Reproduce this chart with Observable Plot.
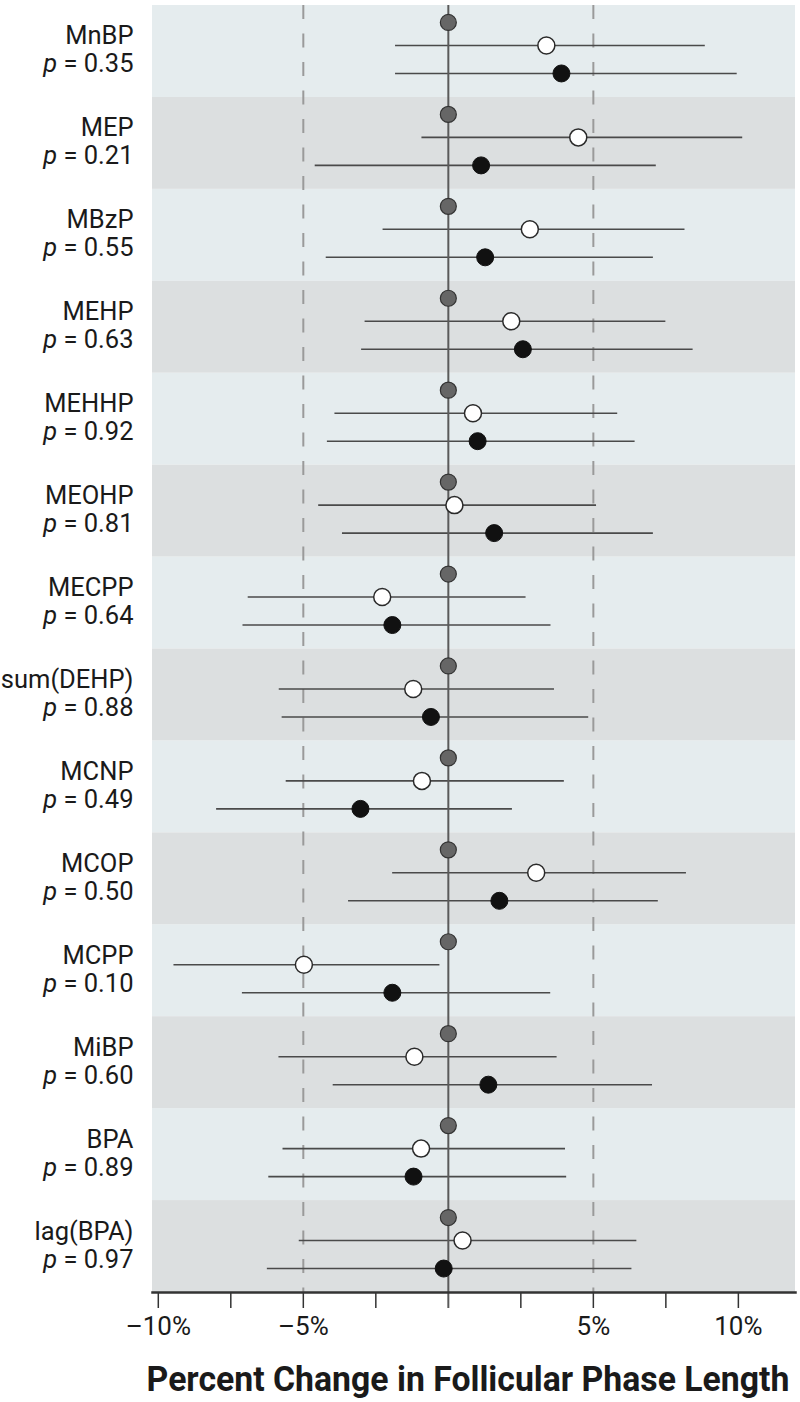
<!DOCTYPE html>
<html>
<head>
<meta charset="utf-8">
<script src="https://cdn.jsdelivr.net/npm/d3@7"></script>
<script src="https://cdn.jsdelivr.net/npm/@observablehq/plot@0.6"></script>
<style>
  html, body { margin: 0; padding: 0; background: #fff; }
  #chart svg { display: block; }
  #title { width: 800px; height: 52px; position: relative; }
  #title span {
    position: absolute; left: 468px; top: 10px;
    font-family: Roboto, "Liberation Sans", sans-serif; font-weight: 700; font-size: 35px;
    line-height: 40px; white-space: nowrap; color: #1a1a1a;
    transform: translateX(-50%) scaleX(0.965); transform-origin: center;
  }
</style>
</head>
<body>
<div id="chart"></div>
<div id="title"><span>Percent Change in Follicular Phase Length</span></div>
<script>
const names = ["MnBP","MEP","MBzP","MEHP","MEHHP","MEOHP","MECPP","sum(DEHP)","MCNP","MCOP","MCPP","MiBP","BPA","lag(BPA)"];
const pValues = ["0.35","0.21","0.55","0.63","0.92","0.81","0.64","0.88","0.49","0.50","0.10","0.60","0.89","0.97"];
// reference group (grey dots)
const refEst = [0,0,0,0,0,0,0,0,0,0,0,0,0,0];
// middle group (open circles)
const midEst = [3.38, 4.48, 2.81, 2.17, 0.85, 0.21, -2.28, -1.21, -0.91, 3.03, -4.98, -1.17, -0.94, 0.49];
const midLo  = [-1.82, -0.91, -2.25, -2.87, -3.91, -4.47, -6.90, -5.83, -5.59, -1.92, -9.46, -5.84, -5.70, -5.14];
const midHi  = [8.86, 10.15, 8.16, 7.50, 5.84, 5.11, 2.68, 3.66, 4.00, 8.21, -0.29, 3.75, 4.04, 6.50];
// high group (filled circles)
const highEst = [3.90, 1.13, 1.27, 2.57, 1.01, 1.58, -1.93, -0.60, -3.03, 1.76, -1.93, 1.38, -1.20, -0.16];
const highLo  = [-1.82, -4.59, -4.21, -2.99, -4.17, -3.65, -7.08, -5.73, -7.99, -3.44, -7.10, -3.97, -6.19, -6.24];
const highHi  = [9.96, 7.17, 7.07, 8.44, 6.44, 7.07, 3.54, 4.84, 2.21, 7.24, 3.53, 7.04, 4.08, 6.33];
// axis
const xDomain = [-10.2, 11.97];
const xTicks = [-10, -7.5, -5, -2.5, 2.5, 5, 7.5, 10];
const xLabeled = [-10, -5, 5, 10];
const refLines = [-5, 5];

const rows = names.map((name, i) => ({
  name, p: "p = " + pValues[i], idx: i,
  ref: refEst[i], mid: midEst[i], midLo: midLo[i], midHi: midHi[i],
  high: highEst[i], highLo: highLo[i], highHi: highHi[i]
}));

const FONT = 'Roboto, "Liberation Sans", sans-serif';

const plot = Plot.plot({
  width: 800,
  height: 1350,
  marginTop: 5,
  marginBottom: 58,
  marginLeft: 152,
  marginRight: 5,
  style: { fontFamily: FONT, background: "#fff" },
  x: { domain: xDomain },
  y: { domain: names, padding: 0, round: false, axis: null },
  marks: [
    Plot.cell(rows.filter(d => d.idx % 2 === 0), { y: "name", fill: "#e5ecee", inset: 0 }),
    Plot.cell(rows.filter(d => d.idx % 2 === 1), { y: "name", fill: "#dcdfe0", inset: 0 }),
    Plot.ruleX(refLines, { stroke: "#9a9a9a", strokeWidth: 2, strokeDasharray: "14,14.5" }),
    Plot.ruleY(rows, { y: "name", x1: "midLo", x2: "midHi", dy: -6, stroke: "#4a4a4a", strokeWidth: 1.6 }),
    Plot.ruleY(rows, { y: "name", x1: "highLo", x2: "highHi", dy: 22, stroke: "#4a4a4a", strokeWidth: 1.6 }),
    Plot.ruleX([0], { stroke: "#5a5a5a", strokeWidth: 2, insetBottom: -16 }),
    Plot.dot(rows, { x: "ref", y: "name", dy: -29, r: 8, fill: "#666", stroke: "#333", strokeWidth: 1.2 }),
    Plot.dot(rows, { x: "mid", y: "name", dy: -6, r: 8.5, fill: "#fff", stroke: "#2a2a2a", strokeWidth: 1.5 }),
    Plot.dot(rows, { x: "high", y: "name", dy: 22, r: 8.5, fill: "#111", stroke: "#111", strokeWidth: 1 }),
    Plot.text(rows, { y: "name", text: "name", frameAnchor: "left", dx: -19, dy: -7, textAnchor: "end", lineAnchor: "bottom", fontSize: 25.5, fill: "#1a1a1a" }),
    Plot.text(rows, { y: "name", text: "p", frameAnchor: "left", dx: -19, dy: 21, textAnchor: "end", lineAnchor: "bottom", fontSize: 25.5, fill: "#1a1a1a", className: "plabel" }),
    Plot.axisX({
      ticks: xTicks, tickSize: 16, tickPadding: 8,
      tickFormat: d => xLabeled.includes(d) ? (d < 0 ? "\u2013" : "") + Math.abs(d) + "%" : "",
      stroke: "#333", strokeWidth: 1.5, fontSize: 26, fill: "#1a1a1a", label: null
    }),
    Plot.frame({ anchor: "bottom", stroke: "#333", strokeWidth: 2.5 })
  ]
});

document.getElementById("chart").appendChild(plot);

// italic "p" in the p-value labels
d3.select(plot).selectAll("g.plabel text").each(function () {
  const t = this.textContent;
  const rest = t.slice(1);
  const sel = d3.select(this);
  sel.text(null);
  sel.append("tspan").attr("font-style", "italic").text("p");
  sel.append("tspan").text(rest);
});
</script>
</body>
</html>
